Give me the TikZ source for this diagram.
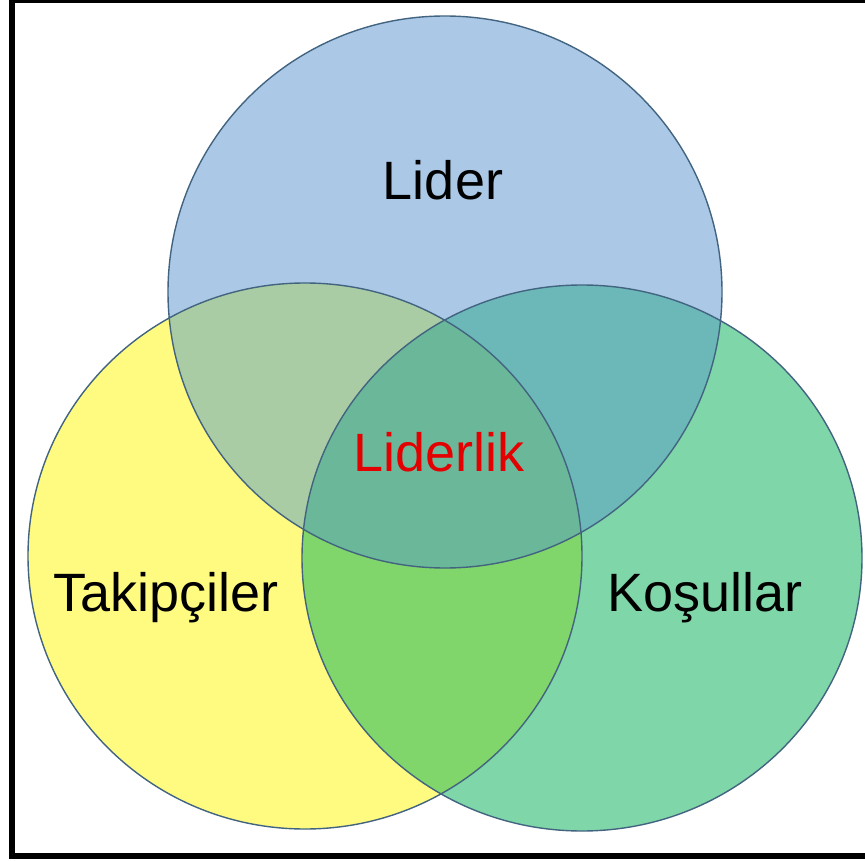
\documentclass[tikz,border=0pt]{standalone}
\usepackage{fontspec}
\setmainfont{Liberation Sans}
\begin{document}
\definecolor{cblue}{RGB}{171,201,230}
\definecolor{cyellow}{RGB}{255,250,128}
\definecolor{cgreen}{RGB}{127,214,168}
\definecolor{cby}{RGB}{170,204,164}
\definecolor{cbg}{RGB}{108,184,185}
\definecolor{cyg}{RGB}{128,214,106}
\definecolor{call}{RGB}{107,183,154}
\definecolor{cedge}{RGB}{66,100,128}
\definecolor{cred}{RGB}{228,0,0}
\begin{tikzpicture}[x=1pt,y=-1pt,
  ring/.style={draw=cedge,line width=1.4pt},
  label/.style={inner sep=0pt,anchor=base,font=\fontsize{54}{60}\selectfont}]
\useasboundingbox (0,0) rectangle (865,861);
\clip (0,0) rectangle (865,861);
\fill[white] (0,0) rectangle (865,861);
% circle geometry
\coordinate (B) at (445,292);
\coordinate (Y) at (305,556);
\coordinate (G) at (582,558);
\def\shB{(B) ellipse [x radius=277pt, y radius=276pt]}
\def\shY{(Y) ellipse [x radius=277pt, y radius=273pt]}
\def\shG{(G) ellipse [x radius=280pt, y radius=273pt]}
% single regions
\fill[cblue] \shB;
\fill[cyellow] \shY;
\fill[cgreen] \shG;
% pairwise overlaps with the blue circle
\begin{scope}
  \clip \shB;
  \fill[cby] \shY;
  \fill[cbg] \shG;
\end{scope}
% yellow-green overlap and the common centre
\begin{scope}
  \clip \shY;
  \fill[cyg] \shG;
  \clip \shB;
  \fill[call] \shG;
\end{scope}
% outlines
\draw[ring] \shB;
\draw[ring] \shY;
\draw[ring] \shG;
% texts
\node[label] (lider) at (443,200) {Lider};
\node[label,text=cred] (liderlik) at (439,471) {Liderlik};
\node[label] (takip) at (166,611) {Takipçiler};
\node[label] (kosul) at (705,611) {Koşullar};
% frame
\draw[line width=6pt] (12,0) rectangle (880,856);
\end{tikzpicture}
\end{document}
